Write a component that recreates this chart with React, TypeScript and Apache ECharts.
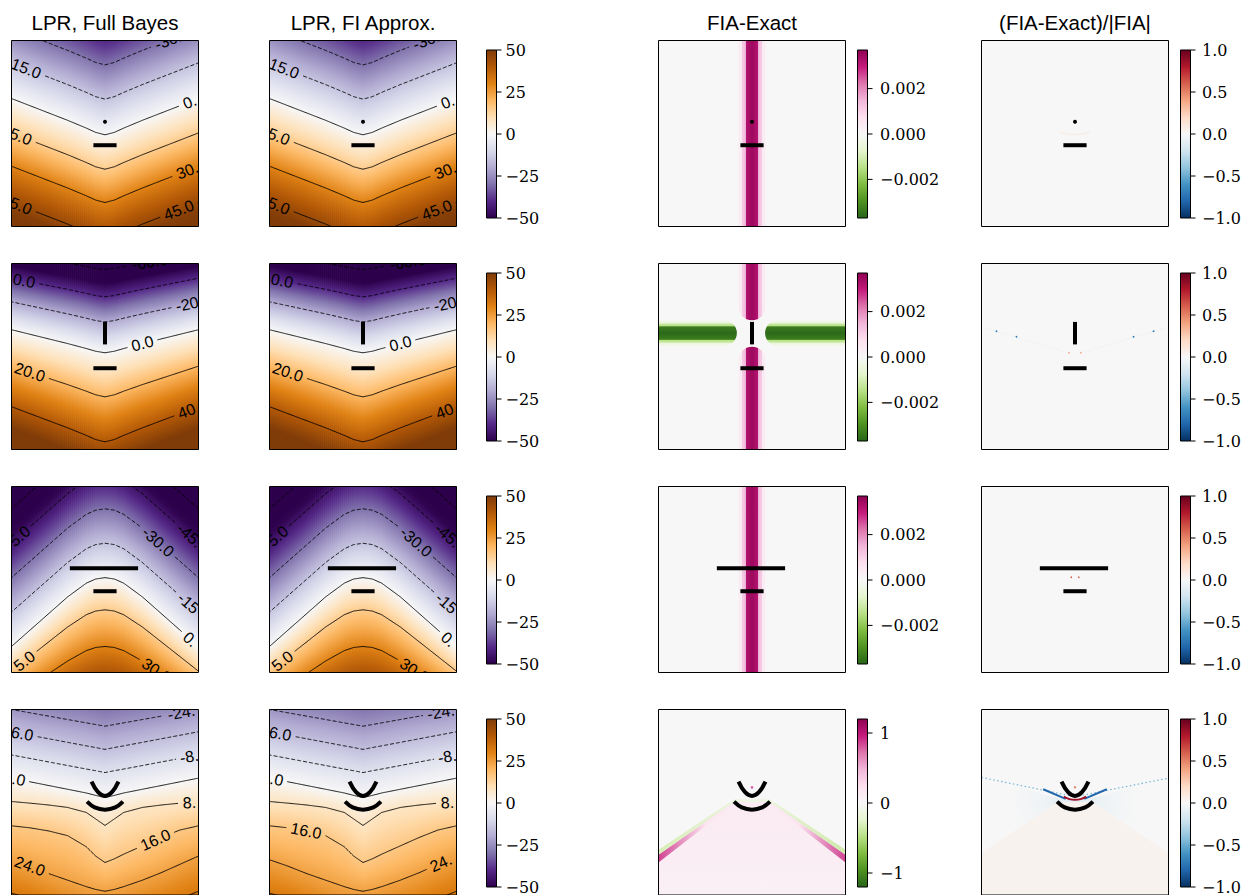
import React, { useEffect, useRef } from 'react';
import * as echarts from 'echarts';

// ---------- colormaps (low -> high) ----------
const PUOR = ['#2d004b', '#542788', '#8073ac', '#b2abd2', '#d8daeb', '#f7f7f7', '#fee0b6', '#fdb863', '#e08214', '#b35806', '#7f3b08'];
const PIYG = ['#276419', '#4d9221', '#7fbc41', '#b8e186', '#e6f5d0', '#f7f7f7', '#fde0ef', '#f1b6da', '#de77ae', '#c51b7d', '#8e0152'];
const RDBU = ['#053061', '#2166ac', '#4393c3', '#92c5de', '#d1e5f0', '#f7f7f7', '#fddbc7', '#f4a582', '#d6604d', '#b2182b', '#67001f'];

// ---------- titles & colorbar ticks ----------
const TITLES = ['LPR, Full Bayes', 'LPR, FI Approx.', 'FIA-Exact', '(FIA-Exact)/|FIA|'];
const LPR_RANGE = 50;
const LPR_TICKS = [-50, -25, 0, 25, 50];
const FIA_RANGES = [0.0037, 0.0037, 0.0037, 1.2];
const FIA_TICKS = [[-0.002, 0, 0.002], [-0.002, 0, 0.002], [-0.002, 0, 0.002], [-1, 0, 1]];
const FIA_DECIMALS = [3, 3, 3, 0];
const RATIO_RANGE = 1;
const RATIO_TICKS = [-1, -0.5, 0, 0.5, 1];

// ---------- LPR contour fields ----------
const CONTOUR_X = [0, 10, 20, 30, 40, 45, 50, 55, 60, 70, 80, 90, 100];
const V_SHAPE = [1, 0.8, 0.6, 0.4, 0.185, 0.067, 0, 0.067, 0.185, 0.4, 0.6, 0.8, 1];
const BUMP_SHAPE = [1, 0.76, 0.52, 0.28, 0.08, 0.02, 0, 0.02, 0.08, 0.28, 0.52, 0.76, 1];

const ROW1_LEVELS = [-60, -45, -30, -15, 0, 15, 30, 45, 60];
const ROW1_CENTER = [-23.7, -5.3, 13.1, 31.5, 50.7, 69.2, 87.1, 106.5, 125];
const ROW1_DEPTH = [-19.5, -19.5, -19.5, -19.5, -19.5, -19.5, -19.5, -19.5, -19.5];
const ROW1_LABELS = [[-30, 86], [-15, 6.5], [0, 97.5], [15, 2.8], [30, 96.2], [45, 89.5], [45, 2.8]];

const ROW2_LEVELS = [-80, -60, -40, -20, 0, 20, 40, 60, 80];
const ROW2_CENTER = [-12, 3.2, 17.9, 31.4, 48, 71.7, 95.9, 120, 144];
const ROW2_DEPTH = [-8, -8.5, -10, -10.8, -12.4, -16.5, -18.9, -20, -21];
const ROW2_LABELS = [[-60, 74], [-40, 3], [-20, 97.4], [0, 70], [20, 9.8], [40, 97]];

const ROW3_LEVELS = [-75, -60, -45, -30, -15, 0, 15, 30, 45];
const ROW3_APEX = [-43.5, -25, -6.5, 12, 30.5, 49, 66.3, 86, 104.5];
const ROW3_DEPTH = [37, 37, 37, 37, 37, 37, 33, 28, 20];
const ROW3_LABELS = [[-45, 1.5], [-30, 78.4], [-45, 97], [-15, 97.3], [0, 97.5], [15, 5], [30, 77.5]];

const ROW4_LEVELS = [-32, -24, -16, -8, 0, 8, 16, 24, 32, 40];
const ROW4_CURVES = [
  [-13, -11.1, -9.2, -7.3, -5.4, -4.5, -3.5, -4.5, -5.4, -7.3, -9.2, -11.1, -13],
  [0, 1.8, 3.6, 5.4, 7.2, 8.1, 9, 8.1, 7.2, 5.4, 3.6, 1.8, 0],
  [12, 13.9, 15.8, 17.7, 19.6, 20.5, 21.5, 20.5, 19.6, 17.7, 15.8, 13.9, 12],
  [24.5, 26.4, 28.3, 30.2, 32.1, 33, 34, 33, 32.1, 30.2, 28.3, 26.4, 24.5],
  [37, 39, 41, 43, 45, 46.3, 47.5, 46.3, 45, 43, 41, 39, 37],
  [49.6, 50.5, 51.5, 52.8, 55.5, 59, 62.5, 59, 55.5, 52.8, 51.5, 50.5, 50],
  [62.7, 63.8, 65.5, 68, 74, 79, 82.5, 80.5, 78, 73.5, 69, 65, 62.7],
  [81, 84.5, 88.5, 92, 95.5, 97, 98, 97, 95.5, 92, 88, 83.5, 79],
  [99, 102, 106, 109, 112, 113.5, 114, 113.5, 112, 109, 106, 102, 98],
  [117, 120, 124, 127, 130, 131.5, 132, 131.5, 130, 127, 124, 120, 116],
];
const ROW4_LABELS_FB = [[-24, 93.2], [-16, 2], [-8, 97.4], [0, 1.5], [8, 97.5], [16, 77], [24, 9.8]];
const ROW4_LABELS_FI = [[-24, 94], [-16, 2], [-8, 97.4], [0, 1.5], [8, 97.5], [16, 19.6], [24, 93.8]];

// ---------- FIA-Exact fields ----------
const FIA_STRIPE_OFFSETS = [-7.4, -7.1, -5.6, -5.3, -3.5, -3.1, 0, 3.1, 3.5, 5.3, 5.6, 7.1, 7.4];
const FIA_STRIPE_VALUES = [0, 0.0003, 0.0004, 0.0011, 0.0014, 0.0032, 0.0035, 0.0032, 0.0014, 0.0011, 0.0004, 0.0003, 0];
const FIA_BAND_OFFSETS = [-6.9, -6.6, -5.3, -5.0, -3.8, -3.4, 0, 3.4, 3.8, 5.0, 5.3, 6.6, 6.9];
const FIA_BAND_VALUES = [0, -0.0003, -0.0005, -0.0012, -0.0015, -0.0033, -0.0036, -0.0033, -0.0015, -0.0012, -0.0005, -0.0003, 0];
// [orientation, centre, from, to, roundFrom, roundTo]
const FIA_SEGMENTS = [
  [['v', 50, -2, 102, 0, 0]],
  [['v', 50, -2, 30.5, 0, 1], ['v', 50, 44.8, 102, 1, 0], ['h', 37.4, -2, 41.9, 0, 1], ['h', 37.4, 57, 102, 1, 0]],
  [['v', 50, -2, 102, 0, 0]],
  [],
];
const FIA4_RIDGE = [[0, 78.3], [40.5, 49.7], [59.5, 49.7], [100, 78.3]];
const FIA4_PINK_LOWER = [[0, 82.5], [40.5, 50.8], [59.5, 50.8], [100, 82.5]];
const FIA4_GREEN_UPPER = [[0, 75.6], [40.5, 48.4], [59.5, 48.4], [100, 75.6]];
const FIA4_AREA_VALUES = [0.14, 0.07];
const FIA4_PINK_VALUES = [0.85, 0.2, 0.12, 0.2, 0.85];
const FIA4_GREEN_VALUES = [-0.32, -0.1, -0.36];
const FIA4_DOT = [50, 42];
const FIA4_DOT_VALUE = 0.8;

// ---------- (FIA-Exact)/|FIA| fields ----------
const RATIO1_ARC = [[42, 49.3], [46, 50.2], [50, 50.5], [54, 50.2], [58, 49.3]];
const RATIO1_ARC_VALUE = 0.06;
const RATIO2_RAYS = [[[0, 34.1], [44.5, 47.5]], [[55.5, 47.5], [100, 34.1]]];
const RATIO2_RAY_VALUE = -0.12;
const RATIO2_SPECKS = [[8, 36.4], [18.7, 39.4], [81.3, 39.4], [92, 36.4]];
const RATIO2_SPECK_VALUE = -0.7;
const RATIO2_RED = [[46.7, 48], [53.1, 48]];
const RATIO2_RED_VALUE = 0.4;
const RATIO3_RED = [[48, 48.8], [52, 48.8]];
const RATIO3_RED_VALUE = 0.6;
const RATIO4_RIDGE = [[0, 77.4], [40.5, 50], [59.5, 50], [100, 77.4]];
const RATIO4_AREA_VALUE = 0.035;
const RATIO4_HAZE = [[0, 36.6], [44, 48.5], [56, 48.5], [100, 37], [100, 77.4], [59.5, 50], [40.5, 50], [0, 77.4]];
const RATIO4_HAZE_VALUE = -0.13;
const RATIO4_RAYS = [[[0, 36.6], [48, 46.6]], [[52, 46.6], [100, 37]]];
const RATIO4_RAY_VALUE = -0.45;
const RATIO4_DARK = [[[33, 43], [45, 48.2]], [[55, 48.2], [67, 43]]];
const RATIO4_DARK_VALUE = -0.8;
const RATIO4_ARC = [[44, 47], [47, 48.3], [50, 48.7], [53, 48.3], [56, 47]];
const RATIO4_ARC_VALUE = 0.85;
const RATIO4_DOT = [50, 41.9];
const RATIO4_DOT_VALUE = 0.5;

// ---------- markers (same in every panel of a row) ----------
const MARKER_LINES = [
  [[[43.8, 56.3], [56.2, 56.3]]],
  [[[50, 31.4], [50, 43.5]], [[43.8, 56.3], [56.2, 56.3]]],
  [[[31.2, 43.9], [67.7, 43.9]], [[43.8, 56.3], [56.2, 56.3]]],
  [
    [[42.8, 38.9], [46.3, 44.6], [50, 46.6], [53.7, 44.6], [57.2, 38.9]],
    [[40.4, 49.7], [44.5, 52.8], [50, 54], [55.5, 52.8], [59.6, 49.7]],
  ],
];
const MARKER_DOTS = [[[50, 43.7]], [], [], []];

// ---------- layout ----------
const PANEL_LEFT = [11.5, 269.5, 658.5, 981.5];
const ROW_TOP = [40.5, 263.5, 486.5, 709.5];
const PANEL_W = 187;
const PANEL_H = 186;
const CB_LEFT = [486.5, 857.5, 1180.5];
const CB_DY = 9.5;
const CB_W = 10;
const CB_H = 168;
const CB_LABEL_GAP = [9, 12.5, 11.5];
const LABEL_FONT = 16;

// ---------- helpers ----------
function hexToRgb(h: string) {
  const n = parseInt(h.slice(1), 16);
  return [(n >> 16) & 255, (n >> 8) & 255, n & 255];
}
function cmap(list: string[], t: number): string {
  const tt = Math.max(0, Math.min(1, t));
  const f = tt * (list.length - 1);
  const i = Math.min(list.length - 2, Math.floor(f));
  const u = f - i;
  const a = hexToRgb(list[i]);
  const b = hexToRgb(list[i + 1]);
  return `rgb(${Math.round(a[0] + (b[0] - a[0]) * u)},${Math.round(a[1] + (b[1] - a[1]) * u)},${Math.round(a[2] + (b[2] - a[2]) * u)})`;
}
function interp(xs: number[], ys: number[], x: number) {
  let i = 0;
  if (x <= xs[0]) i = 0;
  else if (x >= xs[xs.length - 1]) i = xs.length - 2;
  else while (xs[i + 1] < x) i++;
  const t = (x - xs[i]) / (xs[i + 1] - xs[i]);
  return ys[i] + (ys[i + 1] - ys[i]) * t;
}
const CHAR_W: any = { '.': 0.278, '-': 0.333 };
function textWidth(s: string, fs: number) {
  let w = 0;
  for (const ch of s) w += CHAR_W[ch] !== undefined ? CHAR_W[ch] : 0.556;
  return w * fs;
}
const minus = (s: string) => s.replace('-', '\u2212');
const lprColor = (v: number) => cmap(PUOR, (v + LPR_RANGE) / (2 * LPR_RANGE));
const buildCurves = (centers: number[], depths: number[], shape: number[]) =>
  centers.map((c, k) => shape.map((s) => c + depths[k] * s));

const LPR_ROWS = [
  { levels: ROW1_LEVELS, curves: buildCurves(ROW1_CENTER, ROW1_DEPTH, V_SHAPE), labels: [ROW1_LABELS, ROW1_LABELS] },
  { levels: ROW2_LEVELS, curves: buildCurves(ROW2_CENTER, ROW2_DEPTH, V_SHAPE), labels: [ROW2_LABELS, ROW2_LABELS] },
  { levels: ROW3_LEVELS, curves: buildCurves(ROW3_APEX, ROW3_DEPTH, BUMP_SHAPE), labels: [ROW3_LABELS, ROW3_LABELS] },
  { levels: ROW4_LEVELS, curves: ROW4_CURVES, labels: [ROW4_LABELS_FB, ROW4_LABELS_FI] },
];

function frameRect(cs: any) {
  return { type: 'rect', shape: { x: cs.x, y: cs.y, width: cs.width, height: cs.height }, style: { fill: 'none', stroke: '#000', lineWidth: 1 } };
}

function labelGeom(api: any, c: number[], lab: number[]) {
  const [lev, x] = lab;
  const p = api.coord([x, interp(CONTOUR_X, c, x)]);
  const pa = api.coord([x - 2, interp(CONTOUR_X, c, x - 2)]);
  const pb = api.coord([x + 2, interp(CONTOUR_X, c, x + 2)]);
  const ang = Math.atan2(pb[1] - pa[1], pb[0] - pa[0]);
  const text = lev.toFixed(1);
  return { x: p[0], y: p[1], ang, cos: Math.cos(ang), sin: Math.sin(ang), text, hw: textWidth(text, LABEL_FONT) / 2 + 4 };
}

function fieldSeries(gi: number, curves: number[][], levels: number[]) {
  const N = 94;
  const data: number[][] = [];
  for (let i = 0; i < N; i++) data.push([i, 50]);
  return {
    type: 'custom', xAxisIndex: gi, yAxisIndex: gi, clip: true, silent: true, data,
    renderItem: (params: any, api: any) => {
      const i = api.value(0);
      const x0 = (i * 100) / N;
      const x1 = ((i + 1) * 100) / N;
      const xc = (x0 + x1) / 2;
      const a = api.coord([x0, 0]);
      const b = api.coord([x1, 100]);
      const pys = curves.map((c) => api.coord([xc, interp(CONTOUR_X, c, xc)])[1]);
      const top = pys[0];
      const bot = pys[pys.length - 1];
      const stops: any[] = [];
      for (let k = 0; k < levels.length; k++) {
        if (k === levels.length - 1) {
          stops.push({ offset: 1, color: lprColor(levels[k]) });
        } else {
          for (let s = 0; s < 4; s++) {
            const f = s / 4;
            const py = pys[k] + (pys[k + 1] - pys[k]) * f;
            const v = levels[k] + (levels[k + 1] - levels[k]) * f;
            stops.push({ offset: Math.max(0, Math.min(1, (py - top) / (bot - top))), color: lprColor(v) });
          }
        }
      }
      return {
        type: 'rect',
        shape: { x: a[0], y: a[1], width: b[0] - a[0] + 0.7, height: b[1] - a[1] },
        style: { fill: new echarts.graphic.LinearGradient(0, top, 0, bot, stops, true) },
      };
    },
  };
}

function contourSeries(gi: number, curves: number[][], levels: number[], labels: number[][]) {
  return {
    type: 'custom', xAxisIndex: gi, yAxisIndex: gi, clip: true, silent: true,
    data: levels.map((l, k) => [k, 50]),
    renderItem: (params: any, api: any) => {
      const k = api.value(0);
      const c = curves[k];
      const gaps = labels.filter((l) => l[0] === levels[k]).map((l) => labelGeom(api, c, l));
      const segs: any[] = [];
      let cur: any[] = [];
      for (let x = -1; x <= 101.001; x += 0.5) {
        const p = api.coord([x, interp(CONTOUR_X, c, x)]);
        const hidden = gaps.some((g) => {
          const dx = p[0] - g.x;
          const dy = p[1] - g.y;
          const along = dx * g.cos + dy * g.sin;
          const perp = -dx * g.sin + dy * g.cos;
          return Math.abs(along) < g.hw && Math.abs(perp) < 10;
        });
        if (hidden) {
          if (cur.length > 1) segs.push(cur);
          cur = [];
        } else cur.push(p);
      }
      if (cur.length > 1) segs.push(cur);
      return {
        type: 'group',
        children: segs.map((s) => ({
          type: 'polyline', shape: { points: s },
          style: { stroke: '#000', lineWidth: 0.9, fill: 'none', lineDash: levels[k] < 0 ? [4, 2] : null },
        })),
      };
    },
  };
}

// contour labels: the part of the label that falls outside the panel's left/right edge is dropped
function labelSeries(gi: number, curves: number[][], levels: number[], labels: number[][]) {
  return {
    type: 'custom', xAxisIndex: gi, yAxisIndex: gi, clip: true, silent: true,
    data: labels.map((l, i) => [i, 50]),
    renderItem: (params: any, api: any) => {
      const cs = params.coordSys;
      const lab = labels[api.value(0)];
      const g = labelGeom(api, curves[levels.indexOf(lab[0])], lab);
      const chars = Array.from(g.text);
      const W = textWidth(g.text, LABEL_FONT);
      let s = -W / 2;
      const mids: number[] = [];
      const widths: number[] = [];
      const inside: boolean[] = [];
      chars.forEach((ch) => {
        const cw = textWidth(ch, LABEL_FONT);
        const mid = s + cw / 2;
        const xm = g.x + mid * g.cos;
        const half = Math.abs((cw / 2) * g.cos);
        inside.push(xm - half >= cs.x - 1.5 && xm + half <= cs.x + cs.width + 1.5);
        mids.push(mid);
        widths.push(cw);
        s += cw;
      });
      let bestA = -1;
      let bestB = -1;
      for (let a = 0; a < chars.length; a++) {
        if (!inside[a]) continue;
        let b = a;
        while (b + 1 < chars.length && inside[b + 1]) b++;
        if (b - a > bestB - bestA) {
          bestA = a;
          bestB = b;
        }
        a = b;
      }
      if (bestA < 0) return null;
      const sub = chars.slice(bestA, bestB + 1).join('');
      const m = (mids[bestA] - widths[bestA] / 2 + mids[bestB] + widths[bestB] / 2) / 2;
      return {
        type: 'text', x: g.x + m * g.cos, y: g.y + m * g.sin, rotation: -g.ang,
        style: { text: sub, fill: '#000', fontSize: LABEL_FONT, fontFamily: 'Liberation Sans', align: 'center', verticalAlign: 'middle' },
      };
    },
  };
}

function markerSeries(gi: number, row: number) {
  return {
    type: 'custom', xAxisIndex: gi, yAxisIndex: gi, clip: false, silent: true, z: 5, data: [[0, 50]],
    renderItem: (params: any, api: any) => {
      const cs = params.coordSys;
      const children: any[] = [];
      MARKER_LINES[row].forEach((line) => {
        children.push({
          type: 'polyline',
          shape: { points: line.map((p) => api.coord(p)), smooth: line.length > 2 ? 0.4 : 0 },
          style: { stroke: '#000', lineWidth: 4, fill: 'none' },
        });
      });
      MARKER_DOTS[row].forEach((d) => {
        const p = api.coord(d);
        children.push({ type: 'circle', shape: { cx: p[0], cy: p[1], r: 2 }, style: { fill: '#000' } });
      });
      children.push(frameRect(cs));
      return { type: 'group', children };
    },
  };
}

function bandElement(api: any, seg: any[], col: (v: number) => string) {
  const [orient, center, from, to, rf, rt] = seg;
  const offs = orient === 'v' ? FIA_STRIPE_OFFSETS : FIA_BAND_OFFSETS;
  const vals = orient === 'v' ? FIA_STRIPE_VALUES : FIA_BAND_VALUES;
  const n = offs.length;
  const stops = offs.map((o, j) => ({ offset: (o - offs[0]) / (offs[n - 1] - offs[0]), color: col(vals[j]) }));
  if (orient === 'v') {
    const A = api.coord([center + offs[0], from]);
    const B = api.coord([center + offs[n - 1], to]);
    const w = B[0] - A[0];
    const h = B[1] - A[1];
    const r1 = rf ? w / 2 : 0;
    const r2 = rt ? w / 2 : 0;
    return {
      type: 'rect', shape: { x: A[0], y: A[1], width: w, height: h, r: [r1, r1, r2, r2] },
      style: { fill: new echarts.graphic.LinearGradient(A[0], 0, B[0], 0, stops, true) },
    };
  }
  const A = api.coord([from, center + offs[0]]);
  const B = api.coord([to, center + offs[n - 1]]);
  const w = B[0] - A[0];
  const h = B[1] - A[1];
  const r1 = rf ? h / 2 : 0;
  const r2 = rt ? h / 2 : 0;
  return {
    type: 'rect', shape: { x: A[0], y: A[1], width: w, height: h, r: [r1, r2, r2, r1] },
    style: { fill: new echarts.graphic.LinearGradient(0, A[1], 0, B[1], stops, true) },
  };
}

function evenStops(vals: number[], col: (v: number) => string) {
  return vals.map((v, i) => ({ offset: i / (vals.length - 1), color: col(v) }));
}

function fiaSeries(gi: number, r: number) {
  return {
    type: 'custom', xAxisIndex: gi, yAxisIndex: gi, clip: true, silent: true, data: [[0, 50]],
    renderItem: (params: any, api: any) => {
      const cs = params.coordSys;
      const R = FIA_RANGES[r];
      const col = (v: number) => cmap(PIYG, (v + R) / (2 * R));
      const ch: any[] = [{ type: 'rect', shape: { x: cs.x, y: cs.y, width: cs.width, height: cs.height }, style: { fill: col(0) } }];
      FIA_SEGMENTS[r].forEach((seg) => ch.push(bandElement(api, seg, col)));
      if (r === 3) {
        const ridge = FIA4_RIDGE.map((p) => api.coord(p));
        const bottomL = api.coord([0, 102]);
        const area = ridge.concat([api.coord([100, 102]), bottomL]);
        ch.push({
          type: 'polygon', shape: { points: area },
          style: { fill: new echarts.graphic.LinearGradient(0, ridge[1][1], 0, bottomL[1], evenStops(FIA4_AREA_VALUES, col), true) },
        });
        const lower = FIA4_PINK_LOWER.map((p) => api.coord(p)).reverse();
        ch.push({
          type: 'polygon', shape: { points: ridge.concat(lower) },
          style: { fill: new echarts.graphic.LinearGradient(cs.x, 0, cs.x + cs.width, 0, evenStops(FIA4_PINK_VALUES, col), true) },
        });
        const upper = FIA4_GREEN_UPPER.map((p) => api.coord(p));
        ch.push({
          type: 'polygon', shape: { points: upper.concat(ridge.slice().reverse()) },
          style: { fill: new echarts.graphic.LinearGradient(cs.x, 0, cs.x + cs.width, 0, evenStops(FIA4_GREEN_VALUES, col), true) },
        });
        const d = api.coord(FIA4_DOT);
        ch.push({ type: 'circle', shape: { cx: d[0], cy: d[1], r: 1.3 }, style: { fill: col(FIA4_DOT_VALUE) } });
      }
      return { type: 'group', children: ch };
    },
  };
}

function ratioSeries(gi: number, r: number) {
  return {
    type: 'custom', xAxisIndex: gi, yAxisIndex: gi, clip: true, silent: true, data: [[0, 50]],
    renderItem: (params: any, api: any) => {
      const cs = params.coordSys;
      const col = (v: number) => cmap(RDBU, (v + RATIO_RANGE) / (2 * RATIO_RANGE));
      const ch: any[] = [{ type: 'rect', shape: { x: cs.x, y: cs.y, width: cs.width, height: cs.height }, style: { fill: col(0) } }];
      const line = (pts: number[][], v: number, w: number, dash: any) =>
        ({ type: 'polyline', shape: { points: pts.map((p) => api.coord(p)), smooth: pts.length > 2 ? 0.4 : 0 }, style: { stroke: col(v), lineWidth: w, fill: 'none', lineDash: dash } });
      const dot = (p: number[], v: number, rad: number) => {
        const c = api.coord(p);
        return { type: 'circle', shape: { cx: c[0], cy: c[1], r: rad }, style: { fill: col(v) } };
      };
      if (r === 0) {
        ch.push(line(RATIO1_ARC, RATIO1_ARC_VALUE, 2, null));
      } else if (r === 1) {
        RATIO2_RAYS.forEach((ray) => ch.push(line(ray, RATIO2_RAY_VALUE, 1, [1, 2])));
        RATIO2_SPECKS.forEach((p) => ch.push(dot(p, RATIO2_SPECK_VALUE, 0.9)));
        RATIO2_RED.forEach((p) => ch.push(dot(p, RATIO2_RED_VALUE, 0.8)));
      } else if (r === 2) {
        RATIO3_RED.forEach((p) => ch.push(dot(p, RATIO3_RED_VALUE, 0.8)));
      } else {
        const apex = api.coord([50, 48]);
        ch.push({
          type: 'polygon', shape: { points: RATIO4_HAZE.map((p) => api.coord(p)) },
          style: {
            fill: new echarts.graphic.RadialGradient(apex[0], apex[1], 65, [
              { offset: 0, color: col(RATIO4_HAZE_VALUE) }, { offset: 0.5, color: col(RATIO4_HAZE_VALUE / 3) }, { offset: 1, color: col(0) },
            ], true),
          },
        });
        const ridge = RATIO4_RIDGE.map((p) => api.coord(p));
        ch.push({ type: 'polygon', shape: { points: ridge.concat([api.coord([100, 102]), api.coord([0, 102])]) }, style: { fill: col(RATIO4_AREA_VALUE) } });
        RATIO4_RAYS.forEach((ray) => ch.push(line(ray, RATIO4_RAY_VALUE, 1.3, [1.5, 2.5])));
        RATIO4_DARK.forEach((seg) => ch.push(line(seg, RATIO4_DARK_VALUE, 2, null)));
        ch.push(line(RATIO4_ARC, RATIO4_ARC_VALUE, 2, null));
        ch.push(dot(RATIO4_DOT, RATIO4_DOT_VALUE, 1.2));
      }
      return { type: 'group', children: ch };
    },
  };
}

function colorbarSeries(gi: number, list: string[], ticks: number[], fmt: (v: number) => string, gap: number) {
  return {
    type: 'custom', xAxisIndex: gi, yAxisIndex: gi, clip: false, silent: true, data: [[0.5, 0]],
    renderItem: (params: any, api: any) => {
      const cs = params.coordSys;
      const n = list.length;
      const stops = list.map((c, i) => ({ offset: 1 - i / (n - 1), color: c })).reverse();
      const ch: any[] = [
        { type: 'rect', shape: { x: cs.x, y: cs.y, width: cs.width, height: cs.height }, style: { fill: new echarts.graphic.LinearGradient(0, 0, 0, 1, stops) } },
        frameRect(cs),
      ];
      const right = cs.x + cs.width;
      ticks.forEach((v) => {
        const p = api.coord([0, v]);
        ch.push({ type: 'line', shape: { x1: right, y1: p[1], x2: right + 5, y2: p[1] }, style: { stroke: '#000', lineWidth: 1 } });
        ch.push({
          type: 'text', x: right + gap, y: p[1],
          style: { text: fmt(v), fill: '#000', fontSize: 16, fontFamily: 'DejaVu Serif', align: 'left', verticalAlign: 'middle' },
        });
      });
      return { type: 'group', children: ch };
    },
  };
}

function buildOption() {
  const grid: any[] = [];
  const xAxis: any[] = [];
  const yAxis: any[] = [];
  const series: any[] = [];
  const addGrid = (left: number, top: number, w: number, h: number, ymin: number, ymax: number, inverse: boolean) => {
    const i = grid.length;
    grid.push({ left, top, width: w, height: h, show: false, containLabel: false });
    xAxis.push({ type: 'value', gridIndex: i, min: 0, max: 100, show: false });
    yAxis.push({ type: 'value', gridIndex: i, min: ymin, max: ymax, inverse, show: false });
    return i;
  };

  for (let r = 0; r < 4; r++) {
    const top = ROW_TOP[r];
    const row = LPR_ROWS[r];
    for (let c = 0; c < 2; c++) {
      const gi = addGrid(PANEL_LEFT[c], top, PANEL_W, PANEL_H, 0, 100, true);
      series.push(fieldSeries(gi, row.curves, row.levels));
      series.push(contourSeries(gi, row.curves, row.levels, row.labels[c]));
      series.push(labelSeries(gi, row.curves, row.levels, row.labels[c]));
      series.push(markerSeries(gi, r));
    }
    const g3 = addGrid(PANEL_LEFT[2], top, PANEL_W, PANEL_H, 0, 100, true);
    series.push(fiaSeries(g3, r));
    series.push(markerSeries(g3, r));
    const g4 = addGrid(PANEL_LEFT[3], top, PANEL_W, PANEL_H, 0, 100, true);
    series.push(ratioSeries(g4, r));
    series.push(markerSeries(g4, r));

    const cb1 = addGrid(CB_LEFT[0], top + CB_DY, CB_W, CB_H, -LPR_RANGE, LPR_RANGE, false);
    series.push(colorbarSeries(cb1, PUOR, LPR_TICKS, (v) => minus(String(v)), CB_LABEL_GAP[0]));
    const R = FIA_RANGES[r];
    const cb2 = addGrid(CB_LEFT[1], top + CB_DY, CB_W, CB_H, -R, R, false);
    series.push(colorbarSeries(cb2, PIYG, FIA_TICKS[r], (v) => minus(v.toFixed(FIA_DECIMALS[r])), CB_LABEL_GAP[1]));
    const cb3 = addGrid(CB_LEFT[2], top + CB_DY, CB_W, CB_H, -RATIO_RANGE, RATIO_RANGE, false);
    series.push(colorbarSeries(cb3, RDBU, RATIO_TICKS, (v) => minus(v.toFixed(1)), CB_LABEL_GAP[2]));
  }

  return {
    animation: false,
    backgroundColor: '#ffffff',
    grid, xAxis, yAxis, series,
    graphic: {
      elements: TITLES.map((t, c) => ({
        type: 'text', x: PANEL_LEFT[c] + PANEL_W / 2, y: 22.5, silent: true,
        style: { text: t, fill: '#000', fontSize: 20.5, fontFamily: 'Liberation Sans', align: 'center', verticalAlign: 'middle' },
      })),
    },
  };
}

export default function App() {
  const ref = useRef<HTMLDivElement>(null);
  useEffect(() => {
    const chart = echarts.init(ref.current as HTMLDivElement, null, { renderer: 'svg', width: 1257, height: 895 });
    chart.setOption(buildOption() as any);
    return () => chart.dispose();
  }, []);
  return <div ref={ref} style={{ position: 'fixed', left: 0, top: 0, width: 1257, height: 895, background: '#fff' }} />;
}
